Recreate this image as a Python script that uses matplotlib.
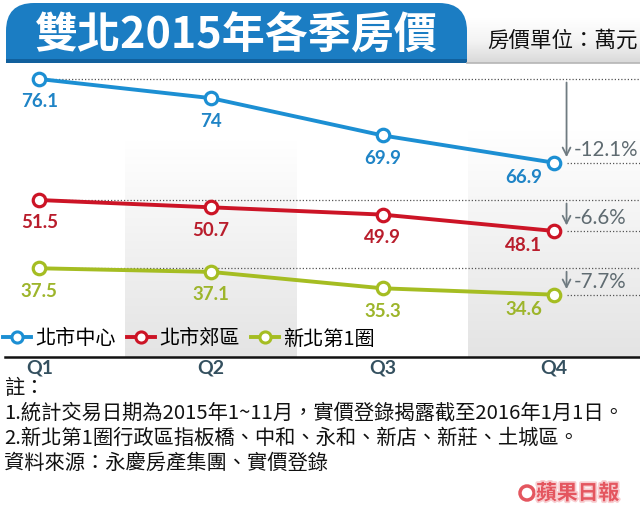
import matplotlib
matplotlib.use('Agg')
import matplotlib.pyplot as plt
import numpy as np
from matplotlib.lines import Line2D
from matplotlib.patches import FancyBboxPatch, Rectangle, Circle
from matplotlib.colors import LinearSegmentedColormap
from matplotlib.font_manager import FontProperties
import matplotlib.patheffects as pe

# ---------------- data ----------------
quarters = ['Q1', 'Q2', 'Q3', 'Q4']
series_names = ['北市中心', '北市郊區', '新北第1圈']
taipei_center = [76.1, 74, 69.9, 66.9]
taipei_suburb = [51.5, 50.7, 49.9, 48.1]
newtaipei_ring1 = [37.5, 37.1, 35.3, 34.6]
changes = ['-12.1%', '-6.6%', '-7.7%']

title = '雙北2015年各季房價'
unit_text = '房價單位：萬元'
notes = ['註：',
         '1.統計交易日期為2015年1~11月，實價登錄揭露截至2016年1月1日。',
         '2.新北第1圈行政區指板橋、中和、永和、新店、新莊、土城區。',
         '資料來源：永慶房產集團、實價登錄']
logo = '蘋果日報'

# ---------------- style ----------------
CJK = ['Noto Sans CJK TC', 'DejaVu Sans']
NUM = ['Lato', 'DejaVu Sans']
line_colors = ['#1c8fd3', '#cc1426', '#a5bd22']
text_colors = ['#1f84c6', '#b91d2c', '#9db52b']
gray_txt = '#5f6b71'

W, H = 640, 525
XLIM = (-0.229, 3.5)
# per-series vertical scales (broken-axis style, one axes per series)
YLIMS = [(45.55, 77.64), (34.25, 66.34), (27.75, 59.84)]
plot_top, plot_bot = 65, 357

fig = plt.figure(figsize=(W / 100, H / 100), dpi=100)

# background / decoration axes in pixel coordinates
bg = fig.add_axes([0, 0, 1, 1])
bg.axis('off')

# title banner
bg.add_patch(FancyBboxPatch((6, 3), 461, 60, boxstyle='round,pad=0,rounding_size=28',
                            fc='#1b7dc3', ec='none', zorder=1))
bg.add_patch(Rectangle((6, 33), 461, 30, fc='#1b7dc3', ec='none', zorder=1))
bg.add_patch(Rectangle((6, 59), 461, 4, fc='#11609d', ec='none', zorder=2))
bg.text(236, 34, title, color='white', fontsize=31, fontweight='bold',
        family=CJK, ha='center', va='center', zorder=3)

# unit strip
strip_cmap = LinearSegmentedColormap.from_list('strip', ['#ffffff', '#f4f4f4', '#d9d9d9'])
bg.imshow(np.linspace(0, 1, 60).reshape(-1, 1), extent=(467, 640, 63, 18),
          cmap=strip_cmap, aspect='auto', zorder=1)
bg.plot([467, 640], [62.5, 62.5], color='#b5b5b5', lw=1.2, zorder=2)
bg.text(487, 41, unit_text, fontsize=15.5, family=CJK, ha='left', va='center',
        color='#111111', zorder=3)

# notes
note_y = [389, 413, 438, 463]
for t, y in zip(notes, note_y):
    bg.text(4, y, t, fontsize=14.6, family=CJK, ha='left', va='center', color='#111111')

# logo
bg.add_patch(Circle((527, 493), 7, fc='white', ec='#e4565f', lw=2.5, zorder=3))
bg.text(536, 493, logo, fontsize=15, fontweight='bold', family=CJK, color='#e4565f',
        ha='left', va='center', zorder=3,
        path_effects=[pe.withStroke(linewidth=2.5, foreground='#f8cdd0')])

bg.set_xlim(0, W)
bg.set_ylim(H, 0)

# base plot axes (bands, x axis)
rect = [0, (H - plot_bot) / H, 1, (plot_bot - plot_top) / H]
ax = fig.add_axes(rect)
ax.set_xlim(XLIM)
ax.set_ylim(0, 1)
ax.patch.set_alpha(0)
for s in ['top', 'right', 'left']:
    ax.spines[s].set_visible(False)
ax.spines['bottom'].set_linewidth(1.8)
ax.spines['bottom'].set_color('#111111')
ax.spines['bottom'].set_bounds(XLIM[0] + 5 / 171.6, XLIM[1])
ax.set_yticks([])
x = np.arange(len(quarters))
ax.set_xticks(x)
ax.set_xticklabels(quarters, fontsize=14, fontweight='bold', family=NUM, color='#34505f')
ax.tick_params(axis='x', length=0, pad=1.5)

band_cmap = LinearSegmentedColormap.from_list('band', ['#ffffff', '#f1f1f1', '#e4e4e4'])
grad = np.linspace(0, 1, 100).reshape(-1, 1)
for i, top in [(1, 0.743), (3, 0.777)]:
    ax.imshow(grad, extent=(i - 0.5, i + 0.5, 0, top), cmap=band_cmap,
              aspect='auto', zorder=0)
ax.set_xlim(XLIM)
ax.set_ylim(0, 1)

# series axes
all_series = [taipei_center, taipei_suburb, newtaipei_ring1]
arrow_x = x[-1] + 0.072
for k, vals in enumerate(all_series):
    a = fig.add_axes(rect, sharex=ax)
    a.patch.set_alpha(0)
    a.axis('off')
    a.set_ylim(YLIMS[k])
    v0, v3 = vals[0], vals[-1]
    a.plot([x[0], XLIM[1]], [v0, v0], color='#555555', lw=0.9,
           ls=(0, (1, 1.6)), zorder=1)
    a.plot([arrow_x, XLIM[1]], [v3, v3], color='#555555', lw=0.9,
           ls=(0, (1, 1.6)), zorder=1)
    a.plot(x, vals, color=line_colors[k], lw=2.8, marker='o', ms=9,
           mfc='white', mec=line_colors[k], mew=2.3, zorder=3,
           solid_capstyle='round')
    a.annotate('', xy=(arrow_x, v3), xytext=(arrow_x, v0),
               arrowprops=dict(arrowstyle='->,head_length=0.55,head_width=0.28',
                               color='#6f7b81', lw=1.3, shrinkA=2.5, shrinkB=4))
    a.annotate(changes[k], xy=(arrow_x, v3), xytext=(5, 2),
               textcoords='offset points', ha='left', va='bottom',
               fontsize=14.8, family=NUM, color=gray_txt)
    for i, v in enumerate(vals):
        if i < len(vals) - 1:
            off = (0, -16.5)
        else:
            off = (-22, -10.5)
        a.annotate(f'{v:g}', xy=(x[i], v), xytext=off, textcoords='offset points',
                   ha='center', va='center', fontsize=13.5, fontweight='bold',
                   family=NUM, color=text_colors[k], zorder=4)
    a.set_xlim(XLIM)

# legend
handles = [Line2D([0], [0], color=c, lw=2.8, marker='o', ms=8, mfc='white',
                  mec=c, mew=2.2) for c in line_colors]
fig.legend(handles, series_names, loc='center left',
           bbox_to_anchor=(3 / W, 1 - 339 / H), ncol=3, frameon=False,
           prop=FontProperties(family=CJK, size=14.5), handlelength=1.4,
           handletextpad=0.2, columnspacing=0.55, borderaxespad=0, borderpad=0)

fig.savefig('out.png', dpi=100)
